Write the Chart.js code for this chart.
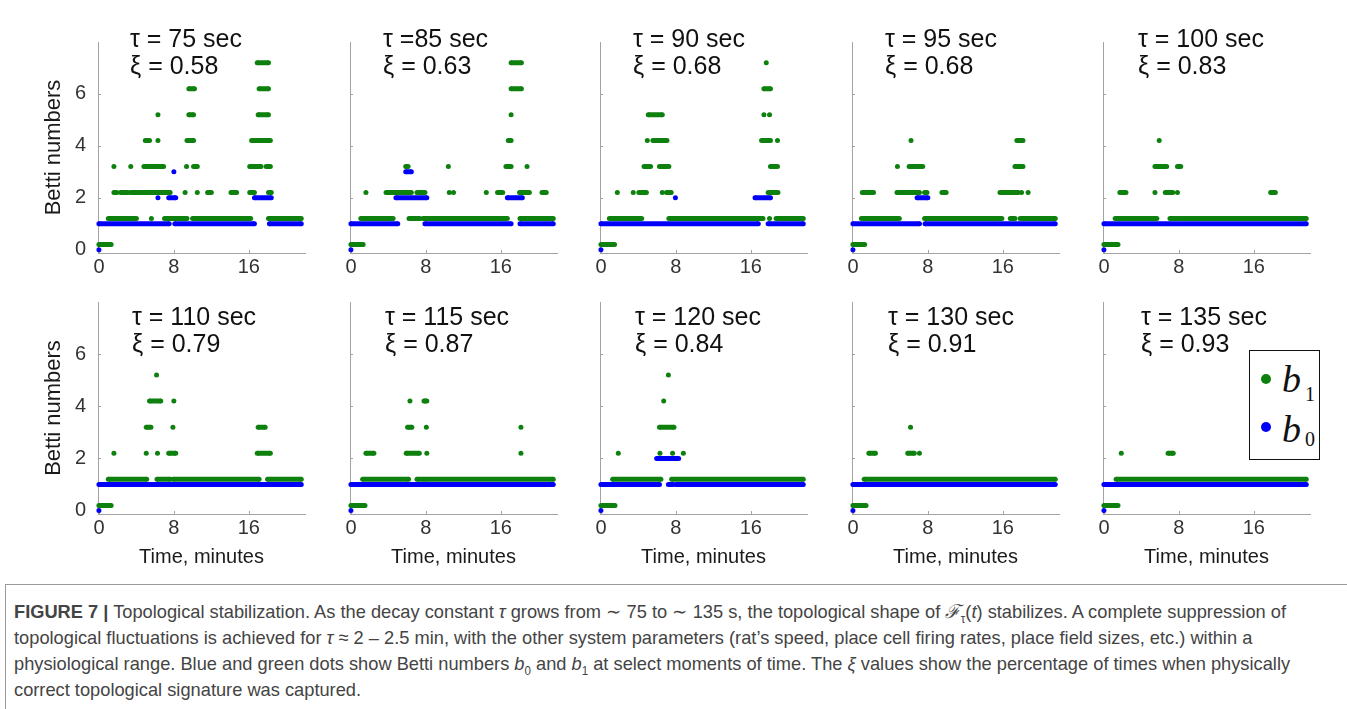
<!DOCTYPE html>
<html>
<head>
<meta charset="utf-8">
<title>Topological stabilization</title>
<script src="https://cdn.jsdelivr.net/npm/chart.js@4.4.1/dist/chart.umd.min.js"></script>
<style>
    html, body { margin: 0; padding: 0; background: #fff; }
    body { width: 1347px; height: 709px; position: relative; overflow: hidden;
           font-family: "Liberation Sans", Arial, sans-serif; }
    .panel { position: absolute; }
    .note { position: absolute; font-size: 25px; line-height: 27px; color: #111; white-space: nowrap; }
    #legend { position: absolute; left: 1249px; top: 350px; width: 69px; height: 108px;
              border: 1px solid #111; background: #fff; }
    #legend .dot { position: absolute; width: 10px; height: 10px; border-radius: 50%; }
    #legend .sym { position: absolute; font-family: "Liberation Serif", "Times New Roman", serif;
                   font-style: italic; font-size: 38px; line-height: 38px; color: #111; }
    #legend .sub { position: absolute; font-family: "Liberation Serif", "Times New Roman", serif;
                   font-size: 20px; line-height: 20px; color: #111; }
    #caption { position: absolute; left: 5px; top: 584px; width: 1400px; height: 200px;
               border-left: 1px solid #9a9a9a; border-top: 1px solid #9a9a9a; }
    #caption .cl { position: absolute; left: 8px; font-size: 19px; line-height: 26px; color: #444;
                   white-space: nowrap; transform-origin: 0 50%; }
    #caption sub { font-size: 12px; line-height: 0; }
</style>
</head>
<body>
<div id="figure"></div>

<div id="legend">
    <span class="dot" style="left: 11px; top: 23px; background: rgb(14,128,14);"></span>
    <span class="sym" style="left: 32px; top: 9px;">b</span>
    <span class="sub" style="left: 55px; top: 33px;">1</span>
    <span class="dot" style="left: 11px; top: 71px; background: rgb(0,0,250);"></span>
    <span class="sym" style="left: 32px; top: 59px;">b</span>
    <span class="sub" style="left: 55px; top: 78px;">0</span>
</div>

<div id="caption">
    <div class="cl" style="top: 14px;"><b>FIGURE 7 |</b> Topological stabilization. As the decay constant <i>τ</i> grows from ∼ 75 to ∼ 135 s, the topological shape of <i>ℱ</i><sub>τ</sub>(<i>t</i>) stabilizes. A complete suppression of</div>
    <div class="cl" style="top: 40px;">topological fluctuations is achieved for <i>τ</i> ≈ 2 – 2.5 min, with the other system parameters (rat’s speed, place cell firing rates, place field sizes, etc.) within a</div>
    <div class="cl" style="top: 66px;">physiological range. Blue and green dots show Betti numbers <i>b</i><sub>0</sub> and <i>b</i><sub>1</sub> at select moments of time. The <i>ξ</i> values show the percentage of times when physically</div>
    <div class="cl" style="top: 92px;">correct topological signature was captured.</div>
</div>

<script>
// ============================================================
// Betti numbers b0 / b1 over time for several decay constants
// ============================================================

// ── Data ──
// each run is [start minute, end minute, Betti number]; a single dot has start == end
const tauLabels = ["τ = 75 sec", "τ =85 sec", "τ = 90 sec", "τ = 95 sec", "τ = 100 sec",
                   "τ = 110 sec", "τ = 115 sec", "τ = 120 sec", "τ = 130 sec", "τ = 135 sec"];
const xiValues = [0.58, 0.63, 0.68, 0.68, 0.83, 0.79, 0.87, 0.84, 0.91, 0.93];
const xTicks = [0, 8, 16];
const yTicks = [0, 2, 4, 6];

const b1_75 = [
    [0, 1.3, 0],
    [1.0, 4.0, 1], [5.6, 5.6, 1], [7.0, 9.4, 1], [10.0, 16.2, 1], [18.1, 21.6, 1],
    [1.6, 1.9, 2], [2.3, 3.1, 2], [3.4, 3.9, 2], [4.1, 7.6, 2], [9.2, 9.2, 2], [10.5, 10.5, 2],
    [11.6, 12.0, 2], [14.1, 14.7, 2], [16.1, 16.6, 2], [18.1, 18.4, 2],
    [1.6, 1.6, 3], [3.4, 3.4, 3], [4.8, 6.9, 3], [9.35, 9.35, 3], [10.1, 10.5, 3], [16.1, 17.3, 3], [17.85, 18.3, 3],
    [4.95, 5.4, 4], [6.3, 6.3, 4], [9.4, 10.1, 4], [16.3, 18.3, 4],
    [6.3, 6.3, 5], [9.6, 10.1, 5], [17.0, 18.1, 5],
    [9.6, 10.2, 6], [17.1, 18.1, 6],
    [16.9, 18.1, 7]
];
const b0_75 = [[0, 0, 0], [0, 7.5, 1], [8.1, 16.6, 1], [18.2, 21.6, 1],
    [6.3, 6.3, 2], [7.45, 8.2, 2], [16.6, 18.4, 2], [8.0, 8.0, 3]];

const b1_85 = [
    [0, 1.3, 0],
    [1.05, 4.5, 1], [6.2, 7.35, 1], [7.7, 16.7, 1], [18.05, 21.6, 1],
    [1.6, 1.6, 2], [3.75, 6.45, 2], [7.05, 7.9, 2], [10.5, 10.5, 2], [10.95, 10.95, 2], [14.45, 14.45, 2],
    [15.65, 16.2, 2], [18.0, 19.05, 2], [20.4, 20.85, 2],
    [5.85, 6.1, 3], [10.4, 10.4, 3], [16.55, 17.1, 3], [18.8, 18.8, 3],
    [16.8, 17.1, 4],
    [17.1, 17.1, 5],
    [17.1, 18.2, 6],
    [17.1, 18.2, 7]
];
const b0_85 = [[0, 0, 0], [0, 5.0, 1], [7.9, 17.1, 1], [18.05, 21.6, 1],
    [4.8, 8.1, 2], [16.7, 18.3, 2], [5.85, 6.45, 3]];

const b1_90 = [
    [0, 1.45, 0],
    [0.9, 4.35, 1], [7.25, 17.3, 1], [18.0, 18.0, 1], [18.7, 21.6, 1],
    [1.75, 1.75, 2], [3.45, 3.45, 2], [4.05, 4.85, 2], [6.55, 6.55, 2], [7.0, 7.5, 2], [17.85, 18.9, 2],
    [4.6, 5.3, 3], [6.25, 7.25, 3], [18.1, 18.85, 3],
    [4.95, 4.95, 4], [5.55, 7.05, 4], [17.15, 18.1, 4], [18.85, 18.85, 4],
    [5.05, 6.55, 5], [17.4, 17.4, 5], [18.0, 18.0, 5],
    [17.4, 18.1, 6],
    [17.65, 17.65, 7]
];
const b0_90 = [[0, 0, 0], [0, 16.8, 1], [17.85, 21.6, 1], [7.95, 7.95, 2], [16.45, 18.1, 2]];

const b1_95 = [
    [0, 1.25, 0],
    [0.9, 4.95, 1], [7.65, 15.9, 1], [16.8, 17.3, 1], [17.85, 21.6, 1],
    [1.0, 2.2, 2], [4.7, 7.1, 2], [7.65, 7.9, 2], [9.5, 9.95, 2], [15.7, 17.65, 2], [18.0, 18.0, 2], [18.7, 18.7, 2],
    [4.75, 4.75, 3], [6.0, 7.45, 3], [17.3, 18.15, 3],
    [6.2, 6.2, 4], [17.5, 18.15, 4]
];
const b0_95 = [[0, 0, 0], [0, 7.1, 1], [7.7, 21.6, 1], [6.85, 8.0, 2]];

const b1_100 = [
    [0, 1.5, 0],
    [1.2, 5.65, 1], [7.05, 7.85, 1], [8.05, 21.6, 1],
    [1.7, 2.35, 2], [5.45, 5.45, 2], [6.55, 7.35, 2], [7.85, 7.85, 2], [17.8, 18.3, 2],
    [5.45, 6.7, 3], [7.85, 8.2, 3],
    [5.9, 5.9, 4]
];
const b0_100 = [[0, 0, 0], [0, 21.6, 1]];

const b1_110 = [
    [0, 1.3, 0],
    [1.0, 5.1, 1], [6.2, 7.6, 1], [7.9, 17.1, 1], [18.0, 21.6, 1],
    [1.6, 1.6, 2], [5.05, 5.05, 2], [6.25, 6.25, 2], [7.45, 8.2, 2], [16.9, 18.3, 2],
    [5.05, 5.55, 3], [7.9, 7.9, 3], [17.0, 17.75, 3],
    [5.4, 6.6, 4], [8.0, 8.0, 4],
    [6.15, 6.15, 5]
];
const b0_110 = [[0, 0, 0], [0, 21.6, 1]];

const b1_115 = [
    [0, 1.5, 0],
    [1.25, 6.15, 1], [7.05, 7.85, 1], [8.05, 21.6, 1],
    [1.6, 2.45, 2], [5.9, 7.3, 2], [8.1, 8.1, 2], [18.15, 18.15, 2],
    [6.05, 6.5, 3], [8.05, 8.05, 3], [18.15, 18.15, 3],
    [6.3, 6.3, 4], [7.8, 8.1, 4]
];
const b0_115 = [[0, 0, 0], [0, 21.6, 1]];

const b1_120 = [
    [0, 1.5, 0],
    [1.25, 6.4, 1], [7.55, 21.6, 1],
    [1.85, 1.85, 2], [6.3, 6.3, 2], [7.65, 7.65, 2], [8.8, 8.8, 2],
    [6.25, 7.8, 3],
    [6.7, 6.7, 4],
    [7.2, 7.2, 5]
];
const b0_120 = [[0, 0, 0], [0, 6.25, 1], [7.2, 7.7, 1], [8.0, 21.6, 1], [5.95, 8.3, 2]];

const b1_130 = [
    [0, 1.4, 0],
    [1.2, 21.6, 1],
    [1.7, 2.4, 2], [5.85, 6.55, 2], [7.1, 7.1, 2],
    [6.15, 6.15, 3]
];
const b0_130 = [[0, 0, 0], [0, 21.6, 1]];

const b1_135 = [
    [0, 1.5, 0],
    [1.3, 21.6, 1],
    [1.85, 1.85, 2], [6.85, 7.4, 2]
];
const b0_135 = [[0, 0, 0], [0, 21.6, 1]];

const b1Panels = [b1_75, b1_85, b1_90, b1_95, b1_100, b1_110, b1_115, b1_120, b1_130, b1_135];
const b0Panels = [b0_75, b0_85, b0_90, b0_95, b0_100, b0_110, b0_115, b0_120, b0_130, b0_135];

// ── Style / layout ──
const B1_SHIFT = 0.2;              // b1 dots are lifted a little so they don't sit on b0
const GREEN = "rgb(14,128,14)";
const BLUE = "rgb(0,0,250)";
const AXIS_COLOR = "#a3a3a3";
const FONT = "'Liberation Sans', Arial, sans-serif";

const AXIS_X = [98, 350, 600, 852, 1103];
const AXIS_TOP = [42, 302];
const PLOT_W = 207;
const PLOT_H = [211, 212];
const PAD_L = 62, PAD_T = 24, PAD_R = 12;
const PAD_B = [40, 58];
const NOTE_LEFT = [130, 383, 633, 885, 1138, 132, 385, 635, 888, 1141];
const NOTE_TOP = [25, 303];

// run list -> line points, a null point breaks the line between runs
function runsToPoints(runs, shift) {
    var pts = [];
    runs.forEach(function (r) {
        pts.push({ x: r[0], y: r[2] + shift });
        if (r[1] !== r[0]) pts.push({ x: r[1], y: r[2] + shift });
        pts.push({ x: r[1], y: null });
    });
    return pts;
}

// MATLAB-style ticks pointing into the plot
const innerTicks = {
    id: "innerTicks",
    beforeDatasetsDraw: function (chart) {
        var ctx = chart.ctx, a = chart.chartArea;
        var xs = chart.scales.x, ys = chart.scales.y;
        ctx.save();
        ctx.strokeStyle = AXIS_COLOR;
        ctx.lineWidth = 1;
        ctx.beginPath();
        yTicks.forEach(function (v) {
            var py = Math.round(ys.getPixelForValue(v)) + 0.5;
            ctx.moveTo(a.left, py);
            ctx.lineTo(a.left + 3, py);
        });
        xTicks.forEach(function (v) {
            var px = Math.round(xs.getPixelForValue(v)) + 0.5;
            ctx.moveTo(px, a.bottom);
            ctx.lineTo(px, a.bottom - 3);
        });
        ctx.stroke();
        ctx.restore();
    }
};

function dataset(label, runs, shift, color, order) {
    return {
        label: label,
        data: runsToPoints(runs, shift),
        showLine: true,
        spanGaps: false,
        borderColor: color,
        backgroundColor: color,
        borderWidth: 5,
        borderCapStyle: "butt",
        pointRadius: 2.5,
        pointHoverRadius: 2.5,
        pointBorderWidth: 0,
        tension: 0,
        clip: false,
        order: order
    };
}

function buildPanel(i) {
    var row = Math.floor(i / 5), col = i % 5;
    var w = PAD_L + PLOT_W + PAD_R;
    var h = PAD_T + PLOT_H[row] + PAD_B[row];

    var box = document.createElement("div");
    box.className = "panel";
    box.style.left = (AXIS_X[col] - PAD_L) + "px";
    box.style.top = (AXIS_TOP[row] - PAD_T) + "px";
    box.style.width = w + "px";
    box.style.height = h + "px";
    var canvas = document.createElement("canvas");
    box.appendChild(canvas);
    document.getElementById("figure").appendChild(box);

    new Chart(canvas, {
        type: "scatter",
        data: {
            datasets: [
                dataset("b0", b0Panels[i], 0, BLUE, 0),
                dataset("b1", b1Panels[i], B1_SHIFT, GREEN, 1)
            ]
        },
        options: {
            responsive: true,
            maintainAspectRatio: false,
            animation: false,
            events: [],
            layout: { padding: { left: 0, top: PAD_T, right: PAD_R, bottom: 0 } },
            plugins: { legend: { display: false }, tooltip: { enabled: false } },
            scales: {
                x: {
                    type: "linear",
                    min: -0.1,
                    max: 22,
                    afterBuildTicks: function (s) { s.ticks = xTicks.map(function (v) { return { value: v }; }); },
                    afterFit: function (s) { s.height = PAD_B[row]; },
                    grid: { display: false, drawTicks: false, tickLength: 0 },
                    border: { display: true, color: AXIS_COLOR, width: 1 },
                    ticks: { font: { family: FONT, size: 20 }, color: "#333", padding: 2, maxRotation: 0, autoSkip: false },
                    title: {
                        display: row === 1,
                        text: "Time, minutes",
                        font: { family: FONT, size: 20 },
                        color: "#1a1a1a",
                        padding: { top: 0, bottom: 3 }
                    }
                },
                y: {
                    type: "linear",
                    min: -0.13,
                    max: 8,
                    afterBuildTicks: function (s) { s.ticks = yTicks.map(function (v) { return { value: v }; }); },
                    afterFit: function (s) { s.width = PAD_L; },
                    grid: { display: false, drawTicks: false, tickLength: 0 },
                    border: { display: true, color: AXIS_COLOR, width: 1 },
                    ticks: { display: col === 0, font: { family: FONT, size: 20 }, color: "#333", padding: 12 },
                    title: {
                        display: col === 0,
                        text: "Betti numbers",
                        font: { family: FONT, size: 22 },
                        color: "#1a1a1a",
                        padding: { top: 5, bottom: 0 }
                    }
                }
            }
        },
        plugins: [innerTicks]
    });

    // τ / ξ annotation
    var note = document.createElement("div");
    note.className = "note";
    note.style.left = NOTE_LEFT[i] + "px";
    note.style.top = NOTE_TOP[row] + "px";
    note.innerHTML = tauLabels[i] + "<br>ξ = " + xiValues[i].toFixed(2);
    document.getElementById("figure").appendChild(note);
}

for (var i = 0; i < 10; i++) buildPanel(i);

// ── Caption: squeeze the lines to the narrow journal type ──
(function fitCaption() {
    var lines = document.querySelectorAll("#caption .cl");
    var target = 1285 - 13;
    var s = target / lines[0].getBoundingClientRect().width;
    lines.forEach(function (el) { el.style.transform = "scaleX(" + s.toFixed(4) + ")"; });
})();
</script>
</body>
</html>
